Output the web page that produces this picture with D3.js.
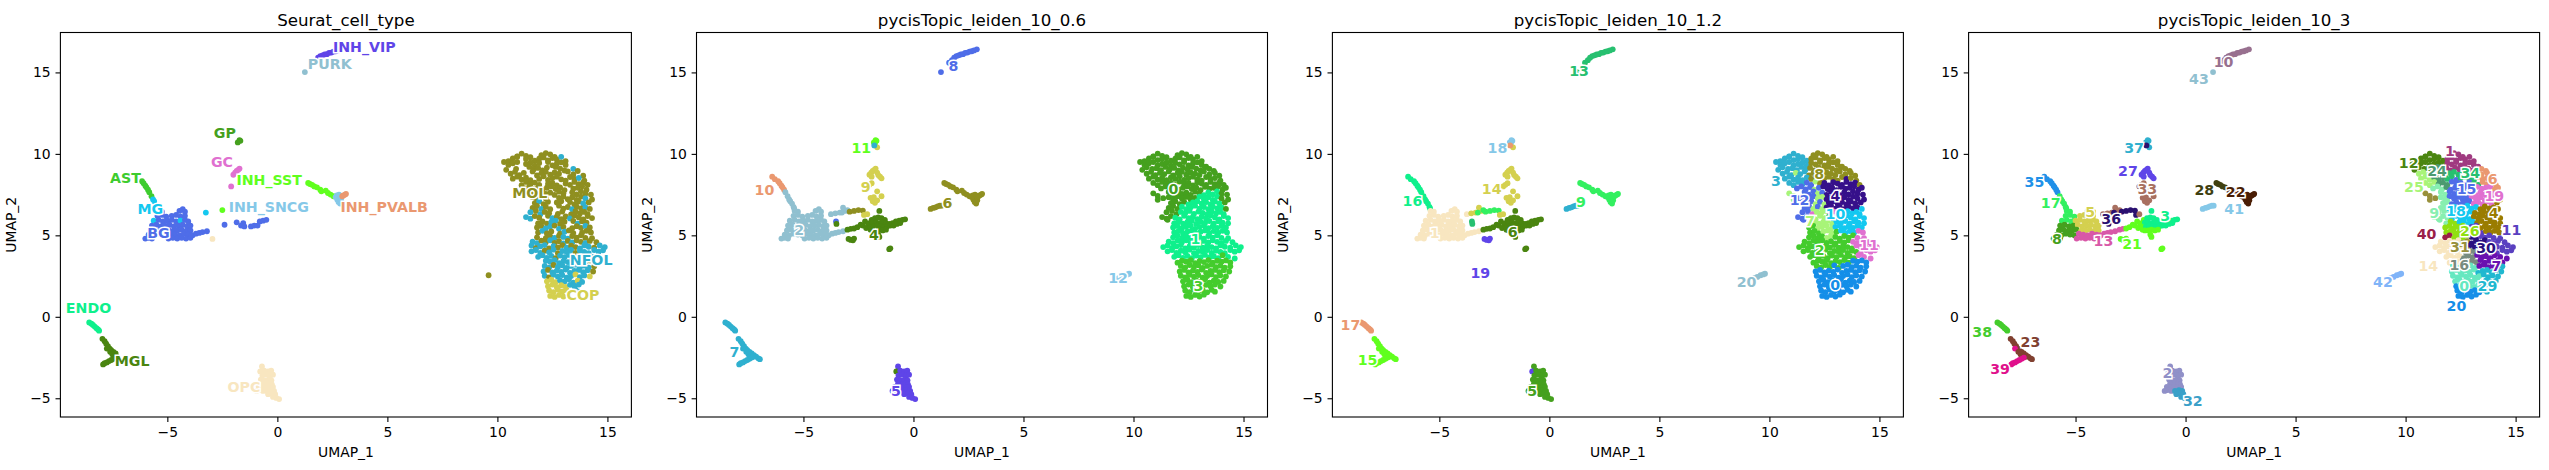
<!DOCTYPE html>
<html>
<head>
<meta charset="utf-8">
<script src="https://cdn.jsdelivr.net/npm/d3@7"></script>
<style>
html,body{margin:0;padding:0;background:#fff}
svg{display:block}
text{font-family:"DejaVu Sans",sans-serif;fill:#000}
</style>
</head>
<body>
<div id="chart"></div>
<script>
// Cell embedding, stored in rows. Entry j of row i in every array below is the same cell.
const umap1 = [
/*b1*/[10.9,11.1,11.3,12.0,12.2,12.4,12.6],
/*b2*/[10.5,10.7,10.9,11.1,11.3,11.5,11.7,11.9,12.1,12.3,12.5,12.7,12.9,13.1],
/*b3*/[10.3,10.5,10.7,10.9,11.1,11.3,11.5,11.7,11.9,12.1,12.3,12.5,12.7,12.9,13.1,13.3],
/*b4*/[10.4,10.6,10.85,11.05,11.25,11.45,11.65,11.85,12.05,12.25,12.45,12.65,12.85,13.05,13.25,13.45,13.65],
/*b5*/[10.6,10.8,11.0,11.2,11.4,11.6,11.8,12.0,12.2,12.4,12.6,12.8,13.0,13.2,13.45,13.7,13.9],
/*b6*/[10.7,10.9,11.1,11.3,11.5,11.7,11.9,12.1,12.3,12.5,12.7,12.9,13.1,13.3,13.5,13.7,13.95],
/*b7*/[10.9,11.1,11.3,11.5,11.7,11.9,12.1,12.3,12.5,12.7,12.9,13.1,13.3,13.5,13.7,13.9,14.1],
/*b8*/[11.25,11.45,11.65,11.85,12.05,12.25,12.45,12.65,12.85,13.05,13.25,13.45,13.65,13.85,14.05,14.2],
/*b9*/[10.9,11.1,11.35,11.6,11.8,12.0,12.2,12.4,12.6,12.8,13.0,13.2,13.4,13.6,13.8,14.0,14.25],
/*b10*/[11.1,11.6,11.8,12.0,12.2,12.4,12.6,12.8,13.0,13.2,13.4,13.6,13.8,14.0,14.3],
/*b11*/[11.7,11.9,12.1,12.3,12.5,12.7,12.9,13.1,13.3,13.5,13.7,13.9,14.15],
/*b12*/[11.6,11.8,12.0,12.2,12.4,12.6,12.8,13.0,13.2,13.4,13.6,13.8,14.0,14.2],
/*b13*/[11.5,11.75,11.95,12.15,12.35,12.55,12.75,12.95,13.15,13.35,13.55,13.75,13.95,14.1],
/*b14*/[11.3,11.5,11.7,11.9,12.1,12.3,12.5,12.7,12.9,13.1,13.3,13.5,13.7,13.9,14.1,14.3],
/*b15*/[11.55,11.85,12.05,12.25,12.45,12.65,12.85,13.05,13.25,13.45,13.65,13.85,14.05,14.3],
/*b16*/[11.8,12.0,12.2,12.4,12.6,12.8,13.0,13.2,13.4,13.6,13.8,14.0,14.2],
/*b17*/[11.85,12.05,12.25,12.45,12.65,12.85,13.05,13.25,13.45,13.65,13.85,14.05,14.25],
/*b18*/[11.8,12.0,12.2,12.4,12.6,12.8,13.0,13.2,13.4,13.6,13.8,14.0,14.3],
/*b19*/[11.6,11.8,12.0,12.2,12.4,12.6,12.8,13.0,13.2,13.4,13.6,13.8,14.0,14.2,14.5],
/*b20*/[11.35,11.55,11.75,11.95,12.15,12.35,12.55,12.75,12.95,13.15,13.35,13.55,13.75,13.95,14.15,14.4,14.65,14.88],
/*b21*/[11.55,11.75,11.95,12.15,12.35,12.55,12.75,12.95,13.15,13.35,13.55,13.75,13.95,14.15,14.4,14.6,14.8],
/*b22*/[11.85,12.05,12.25,12.45,12.65,12.85,13.05,13.25,13.45,13.65,13.85,14.05,14.3,14.6],
/*b23*/[12.0,12.2,12.4,12.6,12.8,13.0,13.2,13.4,13.6,13.8,14.0,14.2,14.4],
/*b24*/[12.15,12.35,12.55,12.75,12.95,13.15,13.35,13.55,13.75,13.95,14.15,14.4],
/*b25*/[12.1,12.3,12.5,12.7,12.9,13.1,13.3,13.5,13.7,13.9,14.1,14.35],
/*b26*/[12.15,12.35,12.55,12.75,12.95,13.15,13.35,13.55,13.75,13.95,14.2],
/*b27*/[12.25,12.45,12.65,12.85,13.05,13.25,13.45,13.65,13.85,14.1],
/*b28*/[12.3,12.5,12.7,12.9,13.1,13.3,13.5,13.7,13.95],
/*b29*/[12.35,12.55,12.75,12.95,13.15,13.35,13.55,13.7],
/*b30*/[12.4,12.6,12.8,13.0,13.2],
/*c1 endo*/[-8.55,-8.45,-8.38,-8.3,-8.22,-8.15,-8.1],
/*c2 mgl*/[-7.95,-7.85,-7.78,-7.7,-7.62,-7.55,-7.45,-7.35,-7.25,-7.15,-7.05,-6.98],
/*c3 mgl*/[-7.75,-7.6,-7.5,-7.4,-7.3],
/*c4 mgl*/[-7.92,-7.85,-7.75,-7.65,-7.55,-7.45,-7.35],
/*o1*/[-0.7,-0.78,-0.6,-0.42,-0.28],
/*o2*/[-0.68,-0.5,-0.32,-0.2],
/*o3*/[-0.75,-0.58,-0.4,-0.27],
/*o4*/[-0.7,-0.52,-0.35,-0.25],
/*o5*/[-0.85,-0.68,-0.5,-0.33,-0.2],
/*o6*/[-0.95,-0.82,-0.65,-0.48,-0.3,-0.15],
/*o7*/[-0.42,-0.25,-0.1],
/*o8*/[-0.2,-0.05,0.08],
/*v1*/[1.62,1.75,1.85,1.95,2.05,2.15,2.25,2.35,2.45,2.55,2.65,2.75,2.88],
/*v2*/[1.25],
/*g1*/[-1.8,-1.72,-1.68,-1.75],
/*g2*/[-1.65,-1.78],
/*g3*/[-2.0,-1.92,-1.85,-1.78,-1.72,-1.65,-1.6,-1.52,-1.45,-1.9],
/*g4*/[-2.1],
/*g5*/[-1.65,-1.95,-1.85,-1.75,-1.65,-1.45,-1.8,-1.9,-2.0],
/*a1*/[-6.42,-6.3,-6.15,-6.08,-6.0,-5.95,-5.88,-5.82,-5.72,-5.65,-5.6,-5.52,-5.45,-5.42],
/*m1*/[-5.4,-5.25,-4.45,-4.3,-4.2],
/*m2*/[-5.45,-5.25,-5.05,-4.8,-4.6,-4.4,-4.2],
/*m3*/[-5.62,-5.4,-5.2,-5.0,-4.8,-4.6,-4.4,-4.2,-4.05],
/*m4*/[-5.7,-5.5,-5.3,-5.1,-4.9,-4.7,-4.5,-4.3,-4.1,-3.95],
/*m5*/[-5.75,-5.55,-5.35,-5.15,-4.95,-4.75,-4.55,-4.35,-4.15,-3.95],
/*m6*/[-5.85,-5.65,-5.45,-5.25,-5.05,-4.85,-4.65,-4.45,-4.25,-4.05,-3.85],
/*m7*/[-6.0,-5.85,-5.7,-4.95,-4.75,-4.55,-4.35,-4.15,-3.95],
/*e1*/[-3.9,-3.7,-3.55,-3.4,-3.2],
/*e2*/[-3.75,-3.55,-3.35],
/*e3*/[-3.2,-3.1,-3.0,-3.25],
/*e4*/[-2.9,-2.7,-2.5,-2.3,-2.25,-2.1],
/*e5*/[-3.52,-3.5],
/*e6*/[-2.95,-2.85,-2.75,-2.7],
/*e7*/[-1.1,-1.05],
/*r1*/[-3.0,-2.85,-2.7,-2.55],
/*r2*/[-2.4,-2.3,-2.2,-2.15,-2.05,-1.95],
/*r3*/[-1.9,-1.75,-1.6,-1.45,-1.3],
/*r4*/[-2.0,-1.85,-1.7,-1.55,-1.4,-1.25,-1.1,-0.95,-0.8,-0.65,-0.5,-0.38],
/*r5*/[-1.95,-1.8,-1.65,-1.5,-1.35,-1.2,-1.05,-0.9,-0.75,-0.6],
/*r6*/[-1.85,-1.7,-1.55,-1.4,-1.25],
/*r7*/[-1.55,-1.6,-1.55],
/*s1*/[0.78,0.9,1.0,1.1,1.2,1.28],
/*s2*/[1.4,1.48,1.58,1.68,1.8,1.95,2.0,2.2,2.3,2.42,2.55],
/*s3*/[2.65,2.72,2.78,2.85,2.9,2.7,2.8,2.9],
/*s4*/[3.0,3.08,3.12,2.95],
/*s5*/[9.32,9.45,9.6,9.72,9.8]
];
const umap2 = [
/*b1*/[9.85,10.02,9.88,9.92,10.05,9.97,9.82],
/*b2*/[9.55,9.72,9.83,9.62,9.68,9.8,9.58,9.7,9.78,9.6,9.74,9.66,9.82,9.56],
/*b3*/[9.5,9.32,9.42,9.5,9.3,9.38,9.46,9.28,9.44,9.36,9.5,9.3,9.4,9.48,9.32,9.22],
/*b4*/[9.02,9.18,9.08,9.12,9.0,9.2,9.06,9.14,8.98,9.16,9.04,9.2,9.1,8.98,9.18,9.08,8.95],
/*b5*/[8.78,8.9,8.7,8.84,8.76,8.92,8.68,8.82,8.9,8.72,8.86,8.78,8.7,8.92,8.74,8.84,8.66],
/*b6*/[8.48,8.6,8.42,8.54,8.38,8.56,8.46,8.62,8.4,8.52,8.6,8.44,8.36,8.58,8.46,8.52,8.36],
/*b7*/[8.22,8.08,8.28,8.14,8.24,8.1,8.3,8.16,8.22,8.06,8.26,8.18,8.1,8.28,8.14,8.24,8.1],
/*b8*/[7.88,8.0,7.82,7.96,7.8,7.92,8.0,7.84,7.94,7.78,7.98,7.86,7.92,8.02,7.8,7.92],
/*b9*/[7.58,7.42,7.28,7.66,7.5,7.7,7.54,7.62,7.48,7.68,7.58,7.46,7.64,7.52,7.7,7.56,7.5],
/*b10*/[7.18,7.34,7.2,7.4,7.26,7.36,7.2,7.3,7.38,7.22,7.34,7.18,7.38,7.26,7.2],
/*b11*/[6.98,7.1,6.92,7.06,6.9,7.02,7.1,6.94,7.04,6.9,7.08,6.96,7.02],
/*b12*/[6.68,6.8,6.62,6.76,6.6,6.72,6.82,6.64,6.74,6.6,6.78,6.66,6.72,6.62],
/*b13*/[6.42,6.5,6.3,6.44,6.36,6.5,6.32,6.46,6.38,6.28,6.48,6.34,6.44,6.3],
/*b14*/[6.12,6.02,6.18,6.08,5.98,6.2,6.06,6.14,6.0,6.16,6.04,6.22,6.1,5.98,6.18,6.06],
/*b15*/[5.95,5.74,5.86,5.72,5.82,5.9,5.7,5.84,5.76,5.88,5.72,5.86,5.78,5.74],
/*b16*/[5.48,5.58,5.42,5.54,5.6,5.4,5.52,5.6,5.44,5.56,5.46,5.58,5.48],
/*b17*/[5.18,5.28,5.12,5.24,5.3,5.1,5.22,5.3,5.14,5.26,5.16,5.28,5.18],
/*b18*/[4.88,5.0,4.82,4.94,4.84,4.98,4.9,4.8,4.96,4.86,5.0,4.84,4.82],
/*b19*/[4.62,4.52,4.68,4.58,4.7,4.54,4.64,4.5,4.66,4.56,4.7,4.6,4.52,4.66,4.58],
/*b20*/[4.28,4.38,4.22,4.32,4.4,4.2,4.34,4.26,4.4,4.24,4.36,4.28,4.2,4.38,4.3,4.24,4.38,4.28],
/*b21*/[4.02,4.1,3.92,4.06,3.96,4.12,3.9,4.04,3.98,4.1,3.92,4.06,3.98,3.9,4.1,4.0,4.08],
/*b22*/[3.68,3.78,3.62,3.74,3.6,3.76,3.66,3.8,3.64,3.72,3.6,3.78,3.68,3.58],
/*b23*/[3.32,3.44,3.38,3.48,3.3,3.42,3.36,3.48,3.32,3.44,3.38,3.46,3.34],
/*b24*/[3.12,3.02,3.18,3.06,3.16,3.0,3.12,3.2,3.04,3.14,3.02,3.1],
/*b25*/[2.78,2.88,2.72,2.84,2.76,2.9,2.7,2.82,2.88,2.74,2.86,2.78],
/*b26*/[2.52,2.42,2.58,2.46,2.56,2.4,2.5,2.6,2.44,2.54,2.48],
/*b27*/[2.18,2.28,2.12,2.24,2.16,2.3,2.1,2.22,2.14,2.2],
/*b28*/[1.88,1.98,1.82,1.94,1.84,1.96,1.88,1.98,1.86],
/*b29*/[1.62,1.52,1.68,1.56,1.64,1.5,1.66,1.54],
/*b30*/[1.28,1.22,1.34,1.24,1.36],
/*c1*/[-0.35,-0.42,-0.5,-0.6,-0.7,-0.78,-0.85],
/*c2*/[-1.35,-1.5,-1.65,-1.8,-1.95,-2.05,-2.15,-2.25,-2.35,-2.45,-2.55,-2.6],
/*c3*/[-1.95,-2.15,-2.3,-2.4,-2.45],
/*c4*/[-2.92,-2.85,-2.8,-2.72,-2.65,-2.58,-2.5],
/*o1*/[-3.05,-3.35,-3.3,-3.35,-3.3],
/*o2*/[-3.6,-3.55,-3.6,-3.55],
/*o3*/[-3.85,-3.9,-3.85,-3.9],
/*o4*/[-4.1,-4.15,-4.1,-4.15],
/*o5*/[-4.3,-4.35,-4.3,-4.35,-4.3],
/*o6*/[-4.55,-4.5,-4.55,-4.55,-4.5,-4.55],
/*o7*/[-4.75,-4.7,-4.75],
/*o8*/[-4.92,-4.98,-5.05],
/*v1*/[15.6,15.75,15.9,16.0,16.05,16.1,16.12,16.2,16.22,16.28,16.3,16.35,16.42],
/*v2*/[15.02],
/*g1*/[10.7,10.85,10.8,10.6],
/*g2*/[10.4,10.52],
/*g3*/[8.72,8.85,8.95,9.02,9.1,8.85,8.7,8.6,8.5,8.6],
/*g4*/[8.0],
/*g5*/[7.7,7.3,7.1,7.0,7.15,7.4,7.35,8.2,8.1],
/*a1*/[8.6,8.45,8.32,8.2,8.05,7.95,7.8,7.65,7.4,7.2,7.1,6.95,6.75,6.65],
/*m1*/[6.5,6.45,6.5,6.6,6.45],
/*m2*/[6.2,6.25,6.15,6.2,6.25,6.15,6.2],
/*m3*/[5.9,5.95,5.85,5.9,5.95,5.85,5.9,5.95,5.85],
/*m4*/[5.6,5.65,5.55,5.6,5.65,5.55,5.6,5.65,5.55,5.6],
/*m5*/[5.3,5.35,5.25,5.3,5.35,5.25,5.3,5.35,5.25,5.3],
/*m6*/[5.05,5.0,5.1,5.05,5.0,5.1,5.05,5.0,5.1,5.05,5.0],
/*m7*/[4.8,4.85,4.8,4.8,4.85,4.8,4.85,4.8,4.85],
/*e1*/[5.0,5.1,5.15,5.2,5.25],
/*e2*/[6.3,6.35,6.4],
/*e3*/[6.7,6.5,6.55,6.4],
/*e4*/[6.45,6.5,6.55,6.52,6.25,6.3],
/*e5*/[5.85,5.7],
/*e6*/[4.78,4.72,4.7,4.8],
/*e7*/[4.15,4.2],
/*r1*/[5.35,5.4,5.42,5.5],
/*r2*/[5.65,5.6,5.85,5.45,5.7,5.35],
/*r3*/[5.95,6.05,6.1,6.05,5.95],
/*r4*/[5.75,5.8,5.8,5.75,5.8,5.75,5.7,5.75,5.85,5.9,5.95,5.98],
/*r5*/[5.5,5.55,5.6,5.55,5.5,5.55,5.6,5.6,5.7,5.75],
/*r6*/[5.3,5.3,5.35,5.3,5.35],
/*r7*/[6.5,5.05,4.9],
/*s1*/[6.62,6.68,6.72,6.78,6.82,6.82],
/*s2*/[8.22,8.15,8.1,8.0,7.95,7.8,7.7,7.75,7.6,7.5,7.4],
/*s3*/[7.35,7.2,7.05,6.95,7.15,7.45,7.5,7.35],
/*s4*/[7.45,7.5,7.55,7.4],
/*s5*/[2.38,2.45,2.55,2.6,2.65]
];

// Cell types: entries of cellTypeRows index this list; -1 marks a cell without an annotation.
const seuratNames = ["MOL","NFOL","COP","BG","MG","AST","GP","GC","INH_SST","INH_SNCG","INH_PVALB","INH_VIP","PURK","ENDO","MGL","OPC"];
const seuratColors = ["#8f8f20","#2fb0cf","#d4d04f","#4f6de8","#14c8f0","#3ecc2e","#45a01e","#e070d0","#60ff1e","#85c8e8","#ea9870","#5f45e8","#90c0d0","#0ff08c","#4a8510","#f8e6c0"];
const seuratLabelX = [11.47,14.26,13.89,-5.4,-5.77,-6.9,-2.39,-2.52,-0.37,-0.39,4.85,3.95,2.38,-8.58,-6.6,-1.52];
const seuratLabelY = [7.58,3.51,1.31,5.17,6.6,8.54,11.3,9.48,8.38,6.76,6.72,16.57,15.5,0.55,-2.72,-4.33];
const cellTypeRows = [
/*b1*/[0,0,0,0,0,0,0],
/*b2*/[0,0,0,-1,0,0,0,0,0,0,0,0,1,0],
/*b3*/[0,0,0,0,-1,0,0,0,0,-1,0,0,0,0,0,-1],
/*b4*/[0,-1,0,-1,-1,0,0,0,0,0,-1,0,0,0,-1,1,0],
/*b5*/[0,0,0,0,-1,0,0,0,0,0,0,0,-1,0,0,-1,0],
/*b6*/[0,0,0,0,0,-1,0,0,0,0,0,0,0,0,0,1,0],
/*b7*/[-1,0,0,0,0,0,-1,0,0,0,-1,0,0,0,0,0,0],
/*b8*/[0,0,0,0,0,0,0,0,0,0,-1,0,0,0,0,-1],
/*b9*/[-1,-1,-1,0,0,-1,0,0,0,0,0,-1,0,0,0,0,0],
/*b10*/[-1,0,0,0,0,-1,-1,0,0,0,0,0,0,1,0],
/*b11*/[0,1,0,0,-1,0,0,-1,0,0,0,1,0],
/*b12*/[0,0,1,0,0,-1,0,0,0,1,0,0,1,0],
/*b13*/[1,0,1,0,0,-1,0,0,-1,0,0,0,0,0],
/*b14*/[1,1,0,0,-1,0,1,0,0,0,1,0,0,0,0,0],
/*b15*/[-1,0,0,0,1,1,0,0,-1,0,1,0,0,-1],
/*b16*/[0,0,1,1,0,1,0,-1,0,0,0,1,0],
/*b17*/[0,1,0,0,-1,0,1,0,0,-1,0,0,0],
/*b18*/[0,-1,0,0,1,0,1,1,0,0,0,0,0],
/*b19*/[1,1,0,0,1,0,0,1,0,1,0,0,1,0,0],
/*b20*/[-1,1,0,1,1,0,1,0,0,1,0,0,1,1,1,0,1,1],
/*b21*/[1,1,1,0,1,1,0,1,1,1,0,1,1,1,1,1,1],
/*b22*/[1,1,1,1,0,1,1,1,1,0,1,1,1,-1],
/*b23*/[-1,1,1,1,1,1,1,0,1,1,1,0,-1],
/*b24*/[1,1,0,1,1,1,1,1,1,1,1,0],
/*b25*/[1,0,1,1,1,1,1,1,1,1,1,0],
/*b26*/[1,0,1,1,1,1,1,2,1,1,2],
/*b27*/[2,2,2,1,1,1,1,2,1,-1],
/*b28*/[2,2,2,2,2,1,1,1,-1],
/*b29*/[2,2,2,2,2,-1,1,1],
/*b30*/[2,2,2,2,-1],
/*c1*/[13,13,13,13,13,13,13],
/*c2*/[14,14,14,14,14,14,14,14,-1,-1,-1,-1],
/*c3*/[14,14,14,14,14],
/*c4*/[14,14,14,14,14,14,14],
/*o1*/[15,15,15,15,15],
/*o2*/[15,15,15,15],
/*o3*/[15,15,15,15],
/*o4*/[15,15,15,15],
/*o5*/[15,15,15,15,15],
/*o6*/[15,15,15,15,15,15],
/*o7*/[15,15,15],
/*o8*/[15,15,15],
/*v1*/[-1,-1,11,11,11,11,11,11,11,11,11,11,11],
/*v2*/[12],
/*g1*/[6,6,6,-1],
/*g2*/[-1,-1],
/*g3*/[7,7,7,7,7,-1,-1,-1,-1,-1],
/*g4*/[7],
/*g5*/[-1,-1,-1,-1,-1,-1,-1,-1,-1],
/*a1*/[-1,-1,5,5,5,5,5,5,5,4,4,-1,-1,-1],
/*m1*/[3,3,3,3,3],
/*m2*/[3,3,3,3,3,3,3],
/*m3*/[4,3,3,3,3,3,4,3,3],
/*m4*/[3,3,3,3,3,3,3,3,3,3],
/*m5*/[3,3,3,3,3,3,3,3,3,3],
/*m6*/[3,3,3,3,3,3,3,3,3,3,3],
/*m7*/[3,3,3,3,3,3,3,3,3],
/*e1*/[3,3,3,3,3],
/*e2*/[-1,-1,-1],
/*e3*/[-1,-1,-1,4],
/*e4*/[-1,-1,8,-1,-1,-1],
/*e5*/[-1,-1],
/*e6*/[15,-1,-1,-1],
/*e7*/[-1,-1],
/*r1*/[-1,-1,-1,-1],
/*r2*/[3,-1,-1,-1,-1,-1],
/*r3*/[-1,-1,-1,-1,-1],
/*r4*/[-1,3,-1,3,-1,-1,-1,-1,3,3,3,-1],
/*r5*/[-1,-1,3,3,-1,3,3,3,-1,-1],
/*r6*/[-1,-1,-1,-1,-1],
/*r7*/[-1,-1,-1],
/*s1*/[-1,-1,-1,-1,-1,-1],
/*s2*/[8,8,8,8,8,8,8,8,8,8,8],
/*s3*/[9,9,9,9,9,9,9,9],
/*s4*/[10,10,10,10],
/*s5*/[-1,-1,0,-1,-1]
];

// Leiden clustering at resolution 0.6
const leiden06Colors = ["#45a01e","#0ff08c","#90c0d0","#44cc2d","#4a8510","#5f45e8","#8f8f20","#2fb0cf","#4f6de8","#d4d04f","#ea9870","#60ff1e","#85c8e8"];
const leiden06LabelX = [11.82,12.82,-5.19,12.95,-1.8,-0.8,1.54,-8.14,1.82,-2.17,-6.77,-2.37,9.3];
const leiden06LabelY = [7.84,4.78,5.33,1.92,5.03,-4.56,6.99,-2.15,15.4,7.99,7.8,10.36,2.41];
const leiden06Rows = [
/*b1*/[0,0,0,0,0,0,0],
/*b2*/[0,0,0,0,0,0,0,0,0,0,0,0,0,0],
/*b3*/[0,0,0,0,0,0,0,0,0,0,0,0,0,0,0,0],
/*b4*/[0,0,0,0,0,0,0,0,0,0,0,0,0,0,0,0,0],
/*b5*/[0,0,0,0,0,0,0,0,0,0,0,0,0,0,0,0,0],
/*b6*/[0,0,0,0,0,0,0,0,0,0,0,0,0,0,0,0,0],
/*b7*/[0,0,0,0,0,0,0,0,0,0,0,0,0,0,0,0,0],
/*b8*/[0,0,1,0,0,0,0,0,0,0,0,0,0,0,0,0],
/*b9*/[0,0,0,0,0,0,0,0,0,0,0,1,1,1,1,0,0],
/*b10*/[0,0,0,0,0,0,0,0,1,1,1,1,1,0,0],
/*b11*/[0,0,0,0,1,1,1,1,1,1,1,1,0],
/*b12*/[0,0,0,1,1,1,1,1,1,1,1,1,1,0],
/*b13*/[0,0,0,1,1,1,1,1,1,1,1,1,1,1],
/*b14*/[0,0,0,1,1,1,1,1,1,1,1,1,1,1,1,1],
/*b15*/[0,1,1,1,1,1,1,1,1,1,1,1,1,1],
/*b16*/[1,1,1,1,1,1,1,1,1,1,1,1,1],
/*b17*/[1,1,1,1,1,1,1,1,1,1,1,1,1],
/*b18*/[1,1,1,1,1,1,1,1,1,1,1,1,1],
/*b19*/[1,1,1,1,1,1,1,1,1,1,1,1,1,1,1],
/*b20*/[1,1,1,1,1,1,1,1,1,1,1,1,1,1,1,1,1,1],
/*b21*/[1,1,1,1,1,1,1,1,1,1,1,1,1,1,1,1,1],
/*b22*/[1,1,1,1,1,1,1,1,1,1,1,3,1,1],
/*b23*/[3,3,3,3,3,3,3,3,3,3,3,3,3],
/*b24*/[3,3,3,3,3,3,3,3,3,3,3,3],
/*b25*/[3,3,3,3,3,3,3,3,3,3,3,3],
/*b26*/[3,3,3,3,3,3,3,3,3,3,3],
/*b27*/[3,3,3,3,3,3,3,3,3,3],
/*b28*/[3,3,3,3,3,3,3,3,3],
/*b29*/[3,3,3,3,3,3,3,3],
/*b30*/[3,3,3,3,3],
/*c1*/[7,7,7,7,7,7,7],
/*c2*/[7,7,7,7,7,7,7,7,7,7,7,7],
/*c3*/[7,7,7,7,7],
/*c4*/[7,7,7,7,7,7,7],
/*o1*/[5,4,5,5,5],
/*o2*/[5,5,5,5],
/*o3*/[5,5,5,5],
/*o4*/[5,5,5,5],
/*o5*/[5,5,5,5,5],
/*o6*/[5,5,5,5,5,5],
/*o7*/[5,5,5],
/*o8*/[5,5,5],
/*v1*/[8,8,8,8,8,8,8,8,8,8,8,8,8],
/*v2*/[8],
/*g1*/[11,11,11,11],
/*g2*/[9,7],
/*g3*/[9,9,9,9,9,9,9,9,9,9],
/*g4*/[9],
/*g5*/[9,9,9,9,9,9,9,9,9],
/*a1*/[10,10,10,10,10,10,10,2,2,2,2,2,2,2],
/*m1*/[2,2,2,2,2],
/*m2*/[2,2,2,2,2,2,2],
/*m3*/[2,2,2,2,2,2,2,2,2],
/*m4*/[2,2,2,2,2,2,2,2,2,2],
/*m5*/[2,2,2,2,2,2,2,2,2,2],
/*m6*/[2,2,2,2,2,2,2,2,2,2,2],
/*m7*/[2,2,2,2,2,2,2,2,2],
/*e1*/[2,2,2,2,2],
/*e2*/[2,2,2],
/*e3*/[2,2,2,2],
/*e4*/[6,6,6,6,9,9],
/*e5*/[8,4],
/*e6*/[4,4,4,4],
/*e7*/[4,4],
/*r1*/[4,4,4,4],
/*r2*/[4,4,4,4,4,4],
/*r3*/[4,4,4,4,4],
/*r4*/[4,4,4,4,4,4,4,4,4,4,4,4],
/*r5*/[4,4,4,4,4,4,4,4,4,4],
/*r6*/[4,4,4,4,4],
/*r7*/[4,4,4],
/*s1*/[6,6,6,6,6,6],
/*s2*/[6,6,6,6,6,6,6,6,6,6,6],
/*s3*/[6,6,6,6,6,6,6,6],
/*s4*/[6,6,6,6],
/*s5*/[12,12,12,12,12]
];

// Leiden clustering at resolution 1.2
const leiden12Colors = ["#148ee8","#f8e6c0","#44cc2d","#2fb0cf","#36108a","#45a01e","#4a8510","#a8f478","#8f8f20","#33f060","#14c8f0","#e070d0","#4f6de8","#27c070","#d4d04f","#60ff1e","#0ff08c","#ea9870","#85c8e8","#5f45e8","#90c0d0"];
const leiden12LabelX = [12.99,-5.21,12.28,10.3,13.0,-0.78,-1.67,11.84,12.26,1.43,13.0,14.53,11.37,1.35,-2.62,-8.26,-6.22,-9.04,-2.36,-3.14,8.96];
const leiden12LabelY = [1.96,5.17,4.13,8.36,7.44,-4.56,5.19,5.9,8.74,7.05,6.33,4.41,7.15,15.1,7.82,-2.68,7.11,-0.53,10.36,2.7,2.12];
const leiden12Rows = [
/*b1*/[3,3,3,8,8,8,8],
/*b2*/[3,3,3,3,3,3,3,8,8,8,8,8,8,8],
/*b3*/[3,3,3,3,3,3,3,3,8,8,8,8,8,8,8,8],
/*b4*/[3,3,3,3,3,3,3,8,8,8,8,8,8,8,8,8,8],
/*b5*/[3,3,3,7,3,3,8,8,8,8,8,8,8,8,8,8,8],
/*b6*/[3,3,3,3,3,3,8,8,8,8,8,8,8,8,4,8,8],
/*b7*/[3,3,3,3,12,12,7,8,4,4,4,4,4,4,4,4,8],
/*b8*/[12,12,12,12,7,12,4,4,4,4,4,4,4,4,4,4],
/*b9*/[7,7,12,12,12,12,7,12,4,4,4,4,4,4,4,4,4],
/*b10*/[7,12,12,12,7,7,4,4,4,4,4,4,4,4,4],
/*b11*/[12,12,7,12,7,4,4,4,4,4,4,4,4],
/*b12*/[12,12,7,12,7,4,4,4,4,4,4,4,4,10],
/*b13*/[12,12,11,7,7,7,11,11,11,10,10,10,10,10],
/*b14*/[12,12,12,7,7,7,7,2,10,10,10,10,10,10,10,10],
/*b15*/[12,7,7,7,7,7,7,10,10,10,10,10,10,10],
/*b16*/[2,2,7,7,7,7,10,10,10,10,10,10,10],
/*b17*/[2,2,2,7,7,7,2,10,10,10,10,11,11],
/*b18*/[2,2,2,2,7,7,2,2,2,2,2,11,11],
/*b19*/[2,2,2,2,2,2,2,2,2,2,2,11,11,11,11],
/*b20*/[2,2,2,2,2,2,2,2,2,2,2,2,2,11,11,11,11,11],
/*b21*/[2,2,2,2,2,2,2,2,2,2,2,2,2,11,11,11,11],
/*b22*/[2,2,2,2,2,2,2,2,2,2,2,11,11,11],
/*b23*/[2,2,2,2,2,2,2,2,2,0,0,0,0],
/*b24*/[2,2,2,2,0,2,0,0,0,0,0,0],
/*b25*/[0,0,0,0,0,0,0,0,0,0,0,0],
/*b26*/[0,0,0,0,0,0,0,0,0,0,0],
/*b27*/[0,0,0,0,0,0,0,0,0,0],
/*b28*/[0,0,0,0,0,0,0,0,0],
/*b29*/[0,0,0,0,0,0,0,0],
/*b30*/[0,0,0,0,0],
/*c1*/[17,17,17,17,17,17,17],
/*c2*/[15,15,15,15,15,15,15,15,15,15,15,15],
/*c3*/[15,15,15,15,15],
/*c4*/[15,15,15,15,15,15,15],
/*o1*/[5,19,5,5,5],
/*o2*/[5,5,5,5],
/*o3*/[5,5,5,5],
/*o4*/[5,5,5,5],
/*o5*/[5,5,5,5,5],
/*o6*/[5,5,5,5,5,5],
/*o7*/[5,5,5],
/*o8*/[5,5,5],
/*v1*/[13,13,13,13,13,13,13,13,13,13,13,13,13],
/*v2*/[13],
/*g1*/[18,18,18,18],
/*g2*/[14,17],
/*g3*/[14,14,14,14,14,14,14,14,14,14],
/*g4*/[14],
/*g5*/[14,14,14,14,14,14,14,14,14],
/*a1*/[16,16,16,16,16,16,16,16,16,16,16,16,16,16],
/*m1*/[1,1,1,1,1],
/*m2*/[1,1,1,1,1,1,1],
/*m3*/[1,1,1,1,1,1,1,1,1],
/*m4*/[1,1,1,1,1,1,1,1,1,1],
/*m5*/[1,1,1,1,1,1,1,1,1,1],
/*m6*/[1,1,1,1,1,1,1,1,1,1,1],
/*m7*/[1,1,1,1,1,1,1,1,1],
/*e1*/[1,1,1,1,1],
/*e2*/[1,14,14],
/*e3*/[14,14,9,9],
/*e4*/[9,9,9,9,14,14],
/*e5*/[13,13],
/*e6*/[19,19,19,19],
/*e7*/[6,6],
/*r1*/[6,6,6,6],
/*r2*/[6,6,6,6,6,6],
/*r3*/[6,6,6,6,6],
/*r4*/[6,6,6,6,6,6,6,6,6,6,6,6],
/*r5*/[6,6,6,6,6,6,6,6,6,6],
/*r6*/[6,6,6,6,6],
/*r7*/[6,6,6],
/*s1*/[3,3,3,3,3,3],
/*s2*/[9,9,9,9,9,9,9,9,9,9,9],
/*s3*/[9,9,9,9,9,9,9,9],
/*s4*/[9,9,9,9],
/*s5*/[20,20,20,20,20]
];

// Leiden clustering at resolution 3
const leiden3Colors = ["#66e8c0","#a03a80","#9090c8","#0ff08c","#9a7c00","#d4d04f","#ea9870","#6a10b0","#45a01e","#88efb0","#98708f","#5a40c0","#4a8510","#d858a8","#f8e6c0","#4f6de8","#788c80","#33f060","#14c8f0","#e070d0","#148ee8","#60ff1e","#4a1e05","#804030","#4c9a70","#a8f478","#90e010","#5f45e8","#404010","#20b8d0","#2a1080","#98903c","#3aa0c8","#a87060","#27c070","#2090e8","#2a1070","#2fb0cf","#44cc2d","#e0108c","#9a2048","#85c8e8","#80b4f8","#90c0d0"];
const leiden3LabelX = [12.66,12.01,-0.82,-0.93,14.0,-4.33,13.96,14.13,-5.85,11.3,1.73,14.81,10.14,-3.73,11.03,12.77,12.44,-6.13,12.29,14.03,12.31,-2.43,2.28,-7.05,11.43,10.38,12.92,-2.62,0.85,13.72,13.66,12.47,0.33,-1.74,12.94,-6.87,-3.38,-2.34,-9.24,-8.43,10.95,2.21,8.97,0.61];
const leiden3LabelY = [1.92,10.19,-3.43,6.21,6.39,6.44,8.46,3.1,4.78,6.35,15.65,5.31,9.42,4.68,3.1,7.82,3.15,7.01,6.5,7.4,0.65,4.47,7.66,-1.57,8.97,7.97,5.29,8.95,7.78,1.9,4.23,4.29,-5.17,7.87,8.83,8.25,6.0,10.36,-0.92,-3.19,5.11,6.62,2.12,14.57];
const leiden3Rows = [
/*b1*/[12,12,12,1,1,1,1],
/*b2*/[12,12,12,12,12,12,12,1,1,1,1,1,1,1],
/*b3*/[12,12,12,12,12,12,12,12,1,1,1,1,1,1,1,1],
/*b4*/[12,12,12,12,24,24,24,1,1,1,1,1,1,1,1,6,6],
/*b5*/[25,25,25,24,24,24,24,34,34,34,34,34,34,34,6,6,6],
/*b6*/[25,25,25,24,24,24,34,34,15,34,34,34,34,6,6,6,6],
/*b7*/[25,25,25,24,24,24,15,15,15,15,15,34,34,6,6,6,6],
/*b8*/[9,9,9,24,15,15,15,15,15,19,19,19,19,19,6,6],
/*b9*/[31,31,31,9,9,15,15,15,15,15,19,19,19,19,19,19,19],
/*b10*/[31,9,9,15,15,15,15,15,19,19,19,19,19,19,4],
/*b11*/[9,9,15,15,15,15,15,19,19,19,19,19,4],
/*b12*/[9,9,18,18,18,18,18,18,18,4,4,4,4,4],
/*b13*/[9,9,9,18,18,18,18,18,4,4,4,4,4,4],
/*b14*/[9,9,9,9,18,18,18,18,18,4,4,4,4,4,4,4],
/*b15*/[9,9,26,26,18,18,18,18,4,4,4,4,4,4],
/*b16*/[26,26,26,26,26,26,11,11,4,4,4,4,4],
/*b17*/[26,26,26,26,26,26,11,11,11,4,4,4,4],
/*b18*/[40,40,26,26,26,26,30,30,11,11,11,11,11],
/*b19*/[14,14,14,14,14,31,31,30,30,30,30,11,11,11,11],
/*b20*/[14,14,14,14,14,14,31,31,30,30,30,30,30,30,11,11,11,11],
/*b21*/[14,14,14,14,14,14,16,16,16,30,30,30,30,11,11,11,11],
/*b22*/[14,14,14,14,16,16,16,7,7,7,7,7,7,7],
/*b23*/[14,14,14,16,16,16,16,7,7,7,7,7,7],
/*b24*/[0,0,0,0,0,0,7,7,7,7,7,29],
/*b25*/[0,0,0,0,0,0,29,29,29,29,29,29],
/*b26*/[0,0,0,0,0,0,0,29,29,29,29],
/*b27*/[0,0,0,0,0,0,29,29,29,29],
/*b28*/[20,0,0,0,0,0,29,29,29],
/*b29*/[20,20,20,20,20,20,29,29],
/*b30*/[20,20,20,20,20],
/*c1*/[38,38,38,38,38,38,38],
/*c2*/[23,23,23,23,23,23,23,23,23,23,23,23],
/*c3*/[39,23,23,23,23],
/*c4*/[39,39,39,39,39,39,39],
/*o1*/[2,2,2,2,2],
/*o2*/[2,2,2,2],
/*o3*/[2,2,2,2],
/*o4*/[2,2,2,2],
/*o5*/[2,2,2,2,2],
/*o6*/[2,2,2,32,32,32],
/*o7*/[32,32,32],
/*o8*/[32,32,32],
/*v1*/[10,10,10,10,10,10,10,10,10,10,10,10,10],
/*v2*/[43],
/*g1*/[37,37,37,37],
/*g2*/[37,36],
/*g3*/[27,27,27,27,27,27,27,27,27,27],
/*g4*/[33],
/*g5*/[33,33,33,33,33,33,33,33,33],
/*a1*/[35,35,35,35,35,35,35,35,17,17,17,17,17,17],
/*m1*/[17,17,5,5,5],
/*m2*/[17,17,17,5,5,5,5],
/*m3*/[17,17,17,5,5,5,5,5,5],
/*m4*/[8,8,8,8,5,5,5,5,5,5],
/*m5*/[8,8,8,8,8,5,5,5,5,5],
/*m6*/[8,8,8,8,8,13,13,13,13,13,13],
/*m7*/[8,8,8,13,13,13,13,13,13],
/*e1*/[13,13,13,13,13],
/*e2*/[33,33,33],
/*e3*/[33,33,33,36],
/*e4*/[36,36,36,36,36,33],
/*e5*/[36,36],
/*e6*/[21,21,21,21],
/*e7*/[21,21],
/*r1*/[13,13,21,21],
/*r2*/[21,21,21,21,21,21],
/*r3*/[21,3,3,3,3],
/*r4*/[21,3,3,3,3,3,3,3,3,3,3,3],
/*r5*/[21,3,3,3,3,3,3,3,3,3],
/*r6*/[21,21,21,21,21],
/*r7*/[3,21,21],
/*s1*/[41,41,41,41,41,41],
/*s2*/[28,28,28,28,28,22,22,22,22,22,22],
/*s3*/[22,22,22,22,22,22,22,22],
/*s4*/[22,22,22,22],
/*s5*/[42,42,42,42,42]
];

const xTicks = [-5,0,5,10,15];
const yTicks = [-5,0,5,10,15];
const xDomain = [-9.86,16.09];
const yDomain = [-6.15,17.45];

const titles = ["Seurat_cell_type","pycisTopic_leiden_10_0.6","pycisTopic_leiden_10_1.2","pycisTopic_leiden_10_3"];
const panelLeft = [60.4,696.5,1332.4,1968.6];
const frameWidth = 571, frameTop = 32.5, frameBottom = 417;

const membership = [cellTypeRows,leiden06Rows,leiden12Rows,leiden3Rows];
const palettes = [seuratColors,leiden06Colors,leiden12Colors,leiden3Colors];
const labelXs = [seuratLabelX,leiden06LabelX,leiden12LabelX,leiden3LabelX];
const labelYs = [seuratLabelY,leiden06LabelY,leiden12LabelY,leiden3LabelY];
const labelNames = [seuratNames,null,null,null];

const svg = d3.select("#chart").append("svg").attr("width",2549).attr("height",470);
const fmt = d => String(d).replace("-","\u2212");

titles.forEach((title,p) => {
  const left = panelLeft[p];
  const x = d3.scaleLinear().domain(xDomain).range([left,left+frameWidth]);
  const y = d3.scaleLinear().domain(yDomain).range([frameBottom,frameTop]);
  const g = svg.append("g");

  // one record per cell in this panel; unannotated cells are left out
  const cells = [];
  umap1.forEach((row,i) => row.forEach((u,j) => {
    const c = membership[p][i][j];
    if (c >= 0 && c !== undefined) cells.push({u, v:umap2[i][j], c});
  }));
  g.append("g").selectAll("circle").data(cells).join("circle")
    .attr("cx",d=>x(d.u)).attr("cy",d=>y(d.v)).attr("r",2.9)
    .attr("fill",d=>palettes[p][d.c]);

  const xAxis = g.append("g").attr("transform",`translate(0,${frameBottom})`)
    .call(d3.axisBottom(x).tickValues(xTicks).tickFormat(fmt).tickSize(4.9).tickPadding(4.8));
  const yAxis = g.append("g").attr("transform",`translate(${left},0)`)
    .call(d3.axisLeft(y).tickValues(yTicks).tickFormat(fmt).tickSize(4.9).tickPadding(4.8));
  [xAxis,yAxis].forEach(a => {
    a.select(".domain").remove();
    a.selectAll("line").attr("stroke","#000").attr("stroke-width",1.1);
    a.selectAll("text").attr("font-size",13.9).attr("font-family","'DejaVu Sans',sans-serif").attr("fill","#000");
  });

  g.append("rect").attr("x",left).attr("y",frameTop).attr("width",frameWidth).attr("height",frameBottom-frameTop)
    .attr("fill","none").attr("stroke","#000").attr("stroke-width",1.1);

  g.append("text").attr("x",left+frameWidth/2).attr("y",frameTop-7).attr("text-anchor","middle")
    .attr("font-size",16.67).text(title);
  g.append("text").attr("x",left+frameWidth/2).attr("y",457).attr("text-anchor","middle")
    .attr("font-size",13.9).text("UMAP_1");
  g.append("text").attr("transform",`translate(${left-44.5},${(frameTop+frameBottom)/2}) rotate(-90)`)
    .attr("text-anchor","middle").attr("font-size",13.9).text("UMAP_2");

  // cluster names sit on top of the dots with a white halo
  g.append("g").selectAll("text").data(palettes[p]).join("text")
    .attr("x",(d,i)=>x(labelXs[p][i])).attr("y",(d,i)=>y(labelYs[p][i]))
    .attr("text-anchor","middle").attr("dominant-baseline","central")
    .attr("font-size",14.2).attr("font-weight","bold")
    .attr("stroke","#fff").attr("stroke-width",3).attr("paint-order","stroke")
    .style("fill",d=>d)
    .text((d,i)=>labelNames[p] ? labelNames[p][i] : String(i));
});
</script>
</body>
</html>
